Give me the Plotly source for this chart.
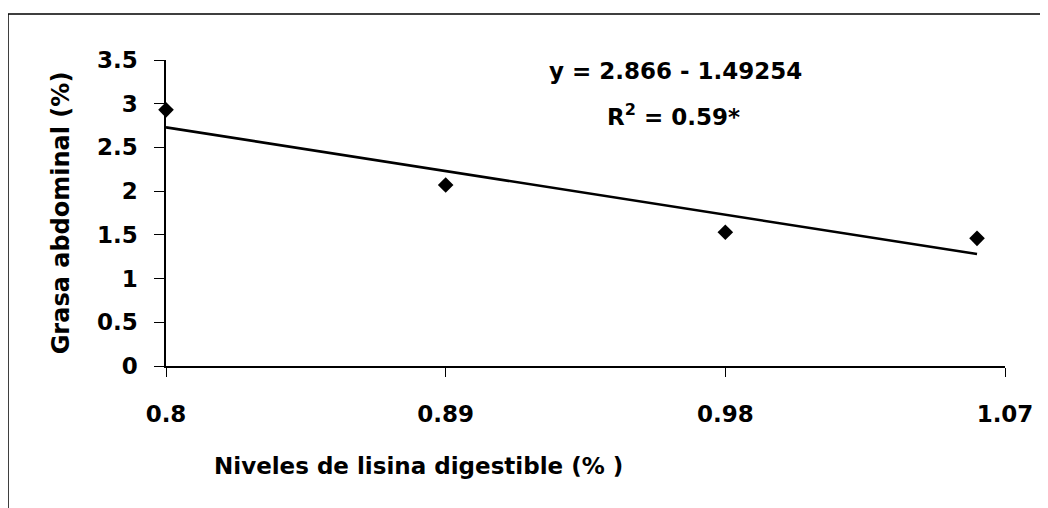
import plotly.graph_objects as go

# Data
lisina = [0.80, 0.89, 0.98, 1.061]
grasa = [2.93, 2.07, 1.53, 1.46]
trend_x = [0.80, 1.061]
trend_y = [2.73, 1.28]
x_ticks = [0.80, 0.89, 0.98, 1.07]
x_tick_labels = ["0.8", "0.89", "0.98", "1.07"]
y_ticks = [0, 0.5, 1, 1.5, 2, 2.5, 3, 3.5]
y_tick_labels = ["0", "0.5", "1", "1.5", "2", "2.5", "3", "3.5"]

FONT = "DejaVu Sans"

# page body has an 8px margin -> compensate
L, T, PW, PH = 158, 52, 839, 306

fig = go.Figure()
fig.add_trace(go.Scatter(x=trend_x, y=trend_y, mode="lines",
                         line=dict(color="black", width=2.6), showlegend=False,
                         cliponaxis=False))
fig.add_trace(go.Scatter(x=lisina, y=grasa, mode="markers",
                         marker=dict(symbol="diamond", size=12, color="black"),
                         showlegend=False, cliponaxis=False))

fig.update_layout(
    width=1048, height=508,
    margin=dict(l=L, r=1048 - L - PW, t=T, b=508 - T - PH),
    paper_bgcolor="white", plot_bgcolor="white",
    font=dict(family=FONT, color="black"),
    xaxis=dict(range=[0.8, 1.07], tickvals=x_ticks, ticktext=x_tick_labels,
               showgrid=False, zeroline=False, showline=True, linecolor="black",
               linewidth=1.5, ticks="outside", ticklen=9, tickcolor="black",
               ticklabelstandoff=18,
               tickfont=dict(family=FONT, size=23, color="black", weight="bold")),
    yaxis=dict(range=[0, 3.5], tickvals=y_ticks, ticktext=y_tick_labels,
               showgrid=False, zeroline=False, showline=True, linecolor="black",
               linewidth=1.5, ticks="outside", ticklen=10, tickcolor="black",
               ticklabelstandoff=12,
               tickfont=dict(family=FONT, size=23, color="black", weight="bold"),
               title=dict(text="<b>Grasa abdominal (%)</b>",
                          font=dict(family=FONT, size=24, color="black"),
                          standoff=21)),
    annotations=[
        dict(xref="paper", yref="paper", x=(418 - 166) / PW, y=(366 - 466) / PH,
             text="<b>Niveles de lisina digestible (% )</b>", showarrow=False,
             font=dict(family=FONT, size=23, color="black"), xanchor="center", yanchor="middle"),
        dict(xref="paper", yref="paper", x=(675 - 166) / PW, y=1 - (71 - 60) / PH,
             text="<b>y = 2.866 - 1.49254</b>", showarrow=False,
             font=dict(family=FONT, size=23, color="black"), xanchor="center", yanchor="middle"),
        dict(xref="paper", yref="paper", x=(673 - 166) / PW, y=1 - (115 - 60) / PH,
             text="<b>R<sup>2</sup> = 0.59*</b>", showarrow=False,
             font=dict(family=FONT, size=23, color="black"), xanchor="center", yanchor="middle"),
    ],
    shapes=[
        dict(type="rect", xref="paper", yref="paper",
             x0=-L / PW, x1=1.2, y0=-0.6, y1=1 + (60 - 14) / PH,
             line=dict(color="black", width=1.5), layer="below"),
    ],
)

fig.write_html("out.html")
